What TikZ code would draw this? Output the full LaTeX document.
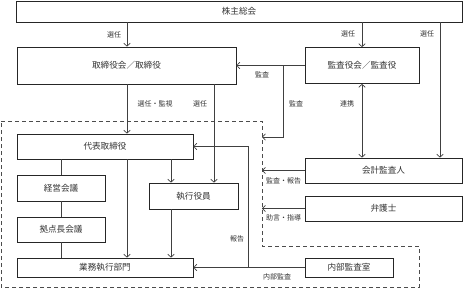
\documentclass[tikz,border=0pt]{standalone}
\usepackage{fontspec}
\newfontfamily\jp{Noto Sans CJK JP}
\usetikzlibrary{arrows.meta}
\begin{document}
\begin{tikzpicture}[x=1pt,y=-1pt,
  box/.style={draw=black!85,line width=0.7pt,inner sep=0pt,font=\jp\fontsize{8.6}{10}\selectfont,text=black!80},
  lbl/.style={inner sep=0pt,font=\jp\fontsize{7}{8}\selectfont,text=black!80},
  ln/.style={draw=black!75,line width=0.7pt},
  arr/.style={ln,-{Straight Barb[length=3pt,width=6.5pt]}},
  dbl/.style={ln,{Straight Barb[length=3pt,width=6.5pt]}-{Straight Barb[length=3pt,width=6.5pt]}},
  dsh/.style={draw=black!70,line width=0.7pt,dash pattern=on 4pt off 3pt}]
\useasboundingbox (0,0) rectangle (463,289);
% boxes
\node[box,minimum width=446,minimum height=21] (kabu) at (239,11.5) {株主総会};
\node[box,minimum width=219,minimum height=37] (tori) at (126.5,65.5) {取締役会／取締役};
\node[box,minimum width=114,minimum height=36] (kansa) at (362,65.5) {監査役会／監査役};
\node[box,minimum width=176,minimum height=25] (daihyo) at (105,146.5) {代表取締役};
\node[box,minimum width=88,minimum height=26] (keiei) at (61,188) {経営会議};
\node[box,minimum width=88,minimum height=25] (kyoten) at (61,229.5) {拠点長会議};
\node[box,minimum width=176,minimum height=19] (gyomu) at (105,267.5) {業務執行部門};
\node[box,minimum width=89,minimum height=26] (shikko) at (193.5,196) {執行役員};
\node[box,minimum width=157,minimum height=25] (kaikei) at (383.5,170.5) {会計監査人};
\node[box,minimum width=157,minimum height=25] (bengo) at (383.5,208.5) {弁護士};
\node[box,minimum width=88,minimum height=19] (naibu) at (349,267.5) {内部監査室};
% helper coordinates
\coordinate (x127) at (127,0);
\coordinate (x214) at (214,0);
\coordinate (x171) at (171,0);
\coordinate (x440) at (440,0);
\coordinate (x283) at (283,0);
\coordinate (x248) at (248,0);
\coordinate (x262) at (262,0);
\coordinate (y137) at (0,137);
\coordinate (y146) at (0,146.5);
% dashed region
\draw[dsh] (1,121) -- (262,121) -- (262,246) -- (419,246) -- (419,287) -- (1,287) -- cycle;
% connectors
\draw[arr] (x127 |- kabu.south) -- (x127 |- tori.north);
\draw[arr] (kansa.north |- kabu.south) -- (kansa.north);
\draw[arr] (x440 |- kabu.south) -- (x440 |- kaikei.north);
\draw[arr] (kansa.west) -- (kansa.west -| tori.east);
\draw[arr] (x283 |- kansa.west) -- (x283 |- y137) -- (x262 |- y137);
\draw[dbl] (kansa.south) -- (kansa.south |- kaikei.north);
\draw[arr] (x127 |- tori.south) -- (x127 |- daihyo.north);
\draw[arr] (x214 |- tori.south) -- (x214 |- shikko.north);
\draw[ln] (keiei.north |- daihyo.south) -- (keiei.north);
\draw[ln] (keiei.south) -- (kyoten.north);
\draw[ln] (kyoten.south) -- (kyoten.south |- gyomu.north);
\draw[arr] (x127 |- daihyo.south) -- (x127 |- gyomu.north);
\draw[arr] (x171 |- daihyo.south) -- (x171 |- shikko.north);
\draw[arr] (x171 |- shikko.south) -- (x171 |- gyomu.north);
\draw[arr] (naibu.west) -- (gyomu.east);
\draw[arr] (x248 |- naibu.west) -- (x248 |- y146) -- (daihyo.east);
\draw[arr] (kaikei.west) -- (x262 |- kaikei.west);
\draw[arr] (bengo.west) -- (x262 |- bengo.west);
% labels
\node[lbl] (l1) at (114,35) {選任};
\node[lbl] (l2) at (348,34) {選任};
\node[lbl] (l3) at (427,34) {選任};
\node[lbl] (l4) at (262,74.5) {監査};
\node[lbl] (l5) at (296,104) {監査};
\node[lbl] (l6) at (347,104) {連携};
\node[lbl] (l7) at (155,104) {選任・監視};
\node[lbl] (l8) at (200,104) {選任};
\node[lbl] (l9) at (237,239) {報告};
\node[lbl] (l10) at (277,276.5) {内部監査};
\node[lbl] (l11) at (283.5,180.5) {監査・報告};
\node[lbl] (l12) at (283.5,217.5) {助言・指導};
\end{tikzpicture}
\end{document}
